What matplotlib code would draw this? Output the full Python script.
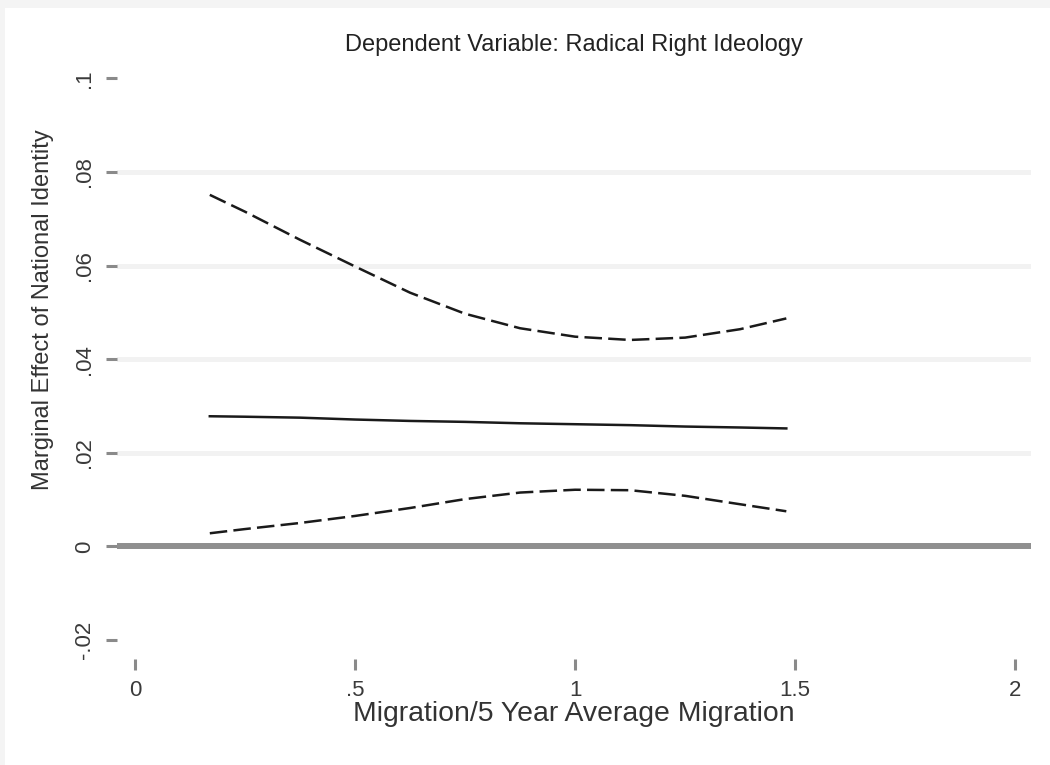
import matplotlib
matplotlib.use('Agg')
import matplotlib.pyplot as plt
from matplotlib.patches import Rectangle

# Values
migration = [0.17, 0.25, 0.375, 0.5, 0.625, 0.75, 0.875, 1.0, 1.125, 1.25, 1.375, 1.48]
effect = [0.0278, 0.0277, 0.0275, 0.0271, 0.0268, 0.0266, 0.0263, 0.0261, 0.0259, 0.0256, 0.0254, 0.0252]
upper_ci = [0.0751, 0.0715, 0.0655, 0.0598, 0.0542, 0.0497, 0.0466, 0.0448, 0.0441, 0.0446, 0.0464, 0.0487]
lower_ci = [0.0028, 0.0037, 0.0050, 0.0065, 0.0082, 0.0101, 0.0115, 0.0121, 0.0120, 0.0108, 0.0090, 0.0075]

x_ticks = [0, 0.5, 1, 1.5, 2]
x_tick_labels = ['0', '.5', '1', '1.5', '2']
y_ticks = [-0.02, 0, 0.02, 0.04, 0.06, 0.08, 0.1]
y_tick_labels = ['-.02', '0', '.02', '.04', '.06', '.08', '.1']

plt.rcParams['font.family'] = ['Liberation Sans', 'DejaVu Sans']

W, H = 1050, 765
fig = plt.figure(figsize=(W / 100, H / 100), dpi=100)
fig.patch.set_facecolor('#f4f4f4')
fig.add_artist(Rectangle((5 / W, 0), 1, 1 - 8 / H, transform=fig.transFigure,
                         facecolor='white', edgecolor='none', zorder=-5))

ax = fig.add_axes([117 / W, 1 - 659 / H, (1031 - 117) / W, (659 - 68) / H])
ax.set_facecolor('white')
ax.patch.set_alpha(0)

# Light gridlines at interior ticks
for yv in y_ticks[1:-1]:
    if yv != 0:
        ax.axhline(yv, color='#f2f2f2', linewidth=3.6, zorder=1)
ax.axhline(0, color='#8f8f8f', linewidth=4.3, zorder=2)

ax.plot(migration, effect, color='#1a1a1a', linewidth=1.8, zorder=3)
ax.plot(migration, upper_ci, color='#1a1a1a', linewidth=1.8, linestyle=(0, (7, 2.5)), zorder=3)
ax.plot(migration, lower_ci, color='#1a1a1a', linewidth=1.8, linestyle=(0, (7, 2.5)), zorder=3)

ax.set_xlim(-0.0409, 2.036)
ax.set_ylim(-0.02406, 0.1022)

for s in ax.spines.values():
    s.set_visible(False)

ax.set_xticks(x_ticks)
ax.set_xticklabels(x_tick_labels)
ax.set_yticks(y_ticks)
ax.set_yticklabels(y_tick_labels, rotation=90, va='center')
ax.tick_params(axis='both', direction='out', length=8, width=2.2, color='#8a8a8a',
               labelcolor='#3a3a3a')
ax.tick_params(axis='x', pad=7, labelsize=16)
ax.tick_params(axis='y', pad=8, labelsize=16)

fig.text(574 / W, 1 - 45 / H, 'Dependent Variable: Radical Right Ideology',
         ha='center', va='center', fontsize=17, color='#222222')
fig.text(574 / W, 1 - 721 / H, 'Migration/5 Year Average Migration',
         ha='center', va='baseline', fontsize=20.4, color='#333333')
fig.text(43 / W, 1 - 310 / H, 'Marginal Effect of National Identity',
         ha='center', va='center', rotation=90, fontsize=17, color='#333333')

plt.savefig('out.png', dpi=100, facecolor=fig.get_facecolor())
